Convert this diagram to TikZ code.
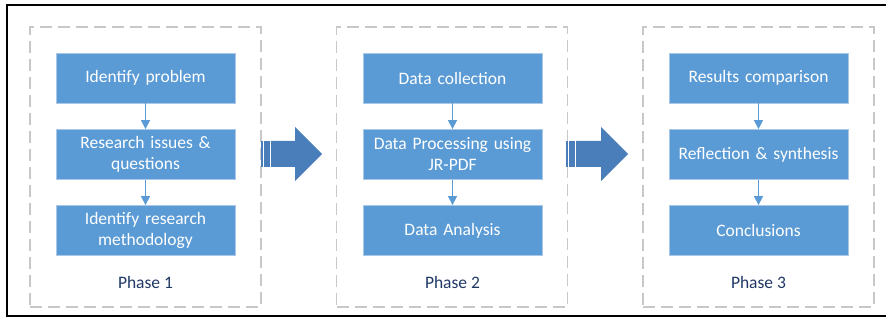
\documentclass[tikz,border=0pt]{standalone}
\usepackage{fontspec}
\setmainfont{Carlito}
\usetikzlibrary{arrows.meta}
\definecolor{boxblue}{HTML}{5B9BD5}
\definecolor{boxedge}{HTML}{A9C8E8}
\definecolor{bigblue}{HTML}{4A7EBB}
\definecolor{phasegray}{HTML}{C8C8C8}
\definecolor{phasenavy}{HTML}{1F3864}
\tikzset{stepbox/.style={fill=boxblue, draw=boxedge, line width=0.8pt, text=white, minimum width=179pt, minimum height=50pt, inner sep=0pt, text width=176pt, align=center}}
\tikzset{phasebox/.style={draw=phasegray, line width=1.5pt, dash pattern=on 12pt off 6pt, minimum width=231pt, minimum height=280pt, inner sep=0pt}}
\tikzset{phaselabel/.style={text=phasenavy}}
\tikzset{flow/.style={draw=boxblue, line width=1.3pt, -{Triangle[width=9pt, length=9pt]}}}

\begin{document}
\begin{tikzpicture}[x=1pt, y=-1pt, font=\fontsize{17.5}{21}\selectfont]
            \useasboundingbox (0, 0) rectangle (886, 320);
            \clip (0, 0) rectangle (886, 320);
            \draw[line width=2pt] (7, 5) rectangle (900, 316);
            % phase frames
            \node[phasebox] (ph1) at (145.5, 167) {};
            \node[phasebox] (ph2) at (452, 167) {};
            \node[phasebox] (ph3) at (758.5, 167) {};
            % phase 1
            \node[stepbox] (idprob) at (145.5, 78) {Identify problem};
            \node[stepbox] (issues) at (145.5, 154.5) {Research issues \&\\questions};
            \node[stepbox] (method) at (145.5, 230.5) {Identify research\\methodology};
            \node[phaselabel] (lab1) at (145.5, 282) {Phase 1};
            % phase 2
            \node[stepbox] (collect) at (452.5, 78) {Data collection};
            \node[stepbox] (process) at (452.5, 154.5) {Data Processing using\\JR-PDF};
            \node[stepbox] (analysis) at (452.5, 230.5) {Data Analysis};
            \node[phaselabel] (lab2) at (452.5, 282) {Phase 2};
            % phase 3
            \node[stepbox] (compare) at (758.5, 78) {Results comparison};
            \node[stepbox] (reflect) at (758.5, 154.5) {Reflection \& synthesis};
            \node[stepbox] (concl) at (758.5, 230.5) {Conclusions};
            \node[phaselabel] (lab3) at (758.5, 282) {Phase 3};
            \draw[flow] (idprob) -- (issues);
            \draw[flow] (issues) -- (method);
            \draw[flow] (collect) -- (process);
            \draw[flow] (process) -- (analysis);
            \draw[flow] (compare) -- (reflect);
            \draw[flow] (reflect) -- (concl);
            % striped block arrows
            \foreach \xs/\xb/\xt in {261/295/322, 566/601/628} {
              \fill[bigblue] (\xs, 141) rectangle (\xs+2, 167);
              \fill[bigblue] (\xs+3, 141) rectangle (\xs+9, 167);
              \fill[bigblue] (\xs+10, 141) -- (\xb, 141) -- (\xb, 127) -- (\xt, 154) -- (\xb, 181) -- (\xb, 167) -- (\xs+10, 167) -- cycle;
            }
        \end{tikzpicture}
\end{document}
